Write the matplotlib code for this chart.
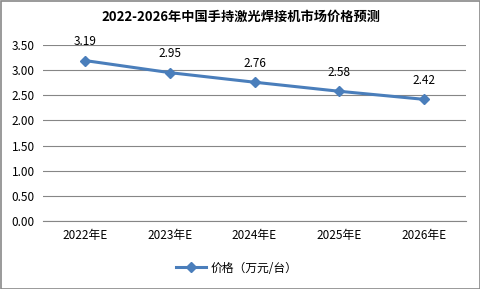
import matplotlib
matplotlib.use("Agg")
import matplotlib.pyplot as plt
from matplotlib.patches import Rectangle

plt.rcParams['font.family'] = ['Noto Sans CJK SC', 'DejaVu Sans']

categories = ["2022年E", "2023年E", "2024年E", "2025年E", "2026年E"]
values = [3.19, 2.95, 2.76, 2.58, 2.42]
series_name = "价格（万元/台）"
title = "2022-2026年中国手持激光焊接机市场价格预测"
yticks = [0.0, 0.5, 1.0, 1.5, 2.0, 2.5, 3.0, 3.5]

color = "#4A7EBB"
fig = plt.figure(figsize=(4.81, 2.89), dpi=100)
fig.patches.append(Rectangle((0.5/481, 0.5/289), 1 - 1/481, 1 - 1/289, transform=fig.transFigure,
                             fill=False, edgecolor="#898989", linewidth=1.2))
ax = fig.add_axes([43/481, 1 - 221/289, (466 - 43)/481, (221 - 45)/289])
x = list(range(len(categories)))
ax.plot(x, values, color=color, linewidth=2.2, marker="D", markersize=5.5, label=series_name)
for xi, v in zip(x, values):
    ax.annotate(f"{v:.2f}", (xi, v), xytext=(0, 9), textcoords="offset points",
                ha="center", va="bottom", fontsize=8.5, color="#000000")
ax.set_xlim(-0.5, len(categories) - 0.5)
ax.set_ylim(0, 3.5)
ax.set_yticks(yticks)
ax.set_yticklabels([f"{t:.2f}" for t in yticks], fontsize=8.5)
ax.set_xticks(x)
ax.set_xticklabels(categories, fontsize=8.5)
ax.tick_params(axis="both", length=0, pad=6)
ax.grid(axis="y", color="#868686", linewidth=0.8)
ax.set_axisbelow(True)
for s in ["top", "right", "left"]:
    ax.spines[s].set_visible(False)
ax.spines["bottom"].set_color("#868686")
ax.spines["bottom"].set_linewidth(0.8)
fig.text(0.5, 1 - 17/289, title, ha="center", va="center", fontsize=9.5, fontweight="bold")
fig.legend(loc="center", bbox_to_anchor=(237/481, 1 - 268/289), frameon=False, fontsize=8.5,
           handlelength=2.5, handletextpad=0.4)
fig.savefig("out.png", dpi=100)
